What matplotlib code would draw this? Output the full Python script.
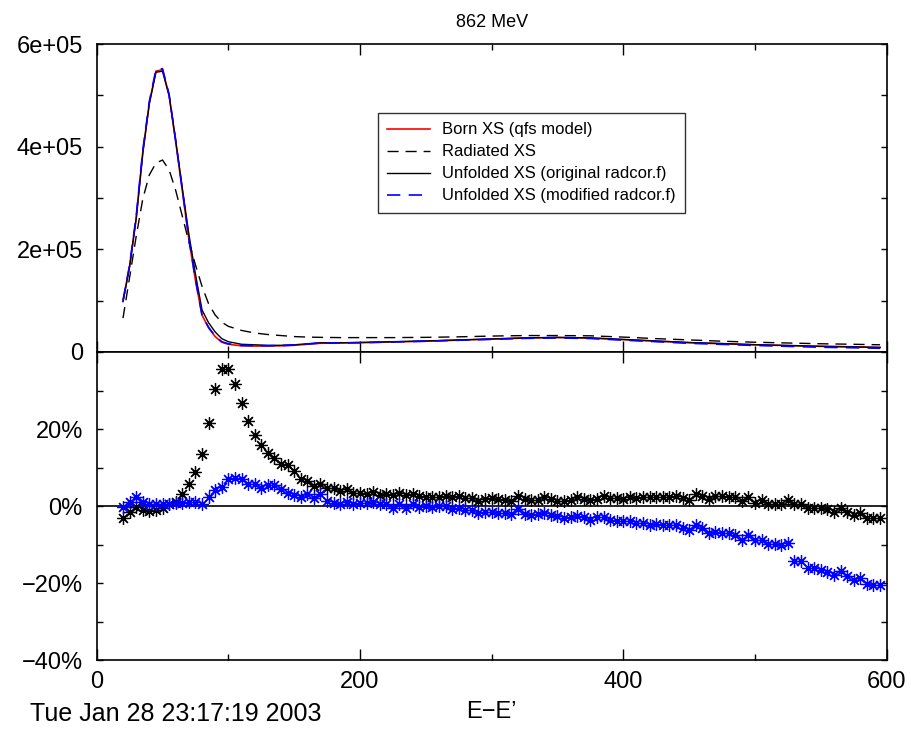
import matplotlib
matplotlib.use("Agg")
import matplotlib.pyplot as plt
from matplotlib.ticker import MultipleLocator

plt.rcParams['font.family'] = ['Liberation Sans', 'DejaVu Sans']

# top panel: cross sections (units of 1e5)
x_xs = [20, 25, 30, 35, 40, 45, 50, 55, 60, 65, 70, 75, 80, 85, 90, 95, 100,
        110, 120, 130, 140, 150, 160, 170, 185, 200, 225, 250, 275, 300, 325,
        350, 375, 400, 425, 450, 475, 500, 525, 550, 575, 595]
born = [1.00, 1.67, 2.60, 3.88, 4.85, 5.47, 5.50, 5.00, 4.10, 3.15, 2.20, 1.40,
        0.72, 0.47, 0.30, 0.19, 0.15, 0.12, 0.115, 0.115, 0.12, 0.13, 0.15,
        0.17, 0.175, 0.18, 0.195, 0.21, 0.23, 0.25, 0.27, 0.28, 0.27, 0.24,
        0.21, 0.18, 0.16, 0.14, 0.125, 0.11, 0.10, 0.09]
radiated = [0.66, 1.45, 2.25, 2.98, 3.45, 3.68, 3.74, 3.55, 3.15, 2.65, 2.15,
            1.70, 1.28, 0.94, 0.72, 0.58, 0.50, 0.42, 0.37, 0.34, 0.32, 0.30,
            0.29, 0.285, 0.28, 0.28, 0.28, 0.285, 0.295, 0.31, 0.32, 0.32,
            0.315, 0.29, 0.26, 0.235, 0.21, 0.19, 0.175, 0.16, 0.15, 0.14]
unf_orig = [0.98, 1.66, 2.60, 3.87, 4.84, 5.45, 5.47, 5.00, 4.12, 3.20, 2.30,
            1.52, 0.82, 0.57, 0.39, 0.26, 0.20, 0.15, 0.14, 0.13, 0.13, 0.14,
            0.16, 0.18, 0.18, 0.186, 0.20, 0.215, 0.235, 0.255, 0.275, 0.285,
            0.275, 0.245, 0.215, 0.185, 0.165, 0.142, 0.126, 0.11, 0.099, 0.087]
unf_mod = [1.00, 1.69, 2.64, 3.92, 4.88, 5.50, 5.52, 5.02, 4.13, 3.18, 2.22,
           1.42, 0.72, 0.48, 0.31, 0.20, 0.16, 0.128, 0.122, 0.121, 0.125,
           0.134, 0.154, 0.175, 0.176, 0.181, 0.195, 0.21, 0.228, 0.246,
           0.265, 0.273, 0.262, 0.23, 0.2, 0.169, 0.148, 0.127, 0.109, 0.092,
           0.082, 0.072]

# bottom panel: relative deviation (%), E-E' = 20..595 step 5
x_dev = list(range(20, 600, 5))
dev_orig = [
    -3.0, -1.6, -0.3, -1.0, -1.3, -1.0, -0.4, 0.4, 1.1, 3.2,
    5.8, 8.9, 13.4, 21.5, 30.5, 35.5, 35.5, 31.6, 26.7, 22.1,
    18.4, 15.8, 13.8, 12.5, 11.0, 10.6, 9.2, 7.0, 6.4, 5.1,
    5.7, 4.6, 4.6, 4.0, 4.3, 3.5, 3.3, 3.2, 3.7, 2.9,
    3.0, 2.9, 3.3, 2.8, 3.0, 2.7, 2.4, 2.3, 2.3, 2.6,
    2.3, 2.6, 2.2, 2.0, 1.3, 1.7, 2.0, 1.7, 1.5, 1.3,
    2.6, 1.7, 1.5, 1.5, 2.3, 1.7, 1.3, 1.3, 1.5, 2.3,
    1.8, 1.5, 1.7, 2.6, 2.0, 2.0, 1.7, 2.3, 2.0, 2.3,
    2.3, 2.3, 2.3, 2.3, 2.6, 2.0, 1.5, 3.0, 2.6, 1.7,
    2.6, 2.6, 2.3, 2.3, 1.3, 2.3, 0.9, 1.5, 0.4, 0.6,
    0.6, 1.5, 0.4, 0.6, -0.6, -0.4, -0.4, -0.9, -1.5, -0.4,
    -1.5, -2.3, -1.7, -3.2, -3.2, -3.2]
dev_mod = [
    -0.2, 1.1, 2.4, 1.1, 0.6, 0.6, 0.4, 0.4, 0.9, 0.9,
    1.1, 1.1, 0.4, 2.4, 4.1, 4.9, 6.9, 7.3, 6.9, 5.8,
    5.8, 4.8, 5.5, 5.4, 4.5, 3.5, 2.8, 2.3, 3.0, 2.2,
    3.0, 1.3, 0.9, 0.5, 1.0, 0.6, 0.7, 0.7, 1.0, 0.4,
    0.4, -0.4, 0.4, -0.4, 0.4, -0.2, 0.0, -0.3, 0.0, 0.0,
    -0.9, -0.6, -1.1, -1.1, -1.7, -1.5, -1.5, -1.7, -1.7, -2.0,
    -0.9, -2.0, -2.3, -2.0, -1.7, -2.3, -2.6, -3.0, -2.9, -2.6,
    -2.9, -3.5, -2.9, -2.9, -3.5, -3.9, -3.9, -3.9, -4.3, -4.3,
    -4.8, -4.6, -4.8, -4.8, -4.8, -5.6, -6.3, -4.8, -5.6, -6.9,
    -6.7, -6.9, -7.1, -7.4, -8.7, -7.4, -8.9, -8.9, -9.8, -9.8,
    -10.0, -9.5, -14.3, -14.3, -16.0, -16.1, -16.6, -17.2, -17.8, -16.9,
    -18.2, -19.3, -18.8, -20.3, -20.5, -20.5]

labels = ['Born XS (qfs model)', 'Radiated XS',
          'Unfolded XS (original radcor.f)', 'Unfolded XS (modified radcor.f)']

fig = plt.figure(figsize=(9.12, 7.31), dpi=100)
ax1 = fig.add_axes([0.106, 0.5185, 0.8662, 0.4213])
ax2 = fig.add_axes([0.106, 0.0971, 0.8662, 0.4213])

sc = 1e5
ax1.plot(x_xs, [v * sc for v in born], color='#ff0000', lw=1.2, label=labels[0])
ax1.plot(x_xs, [v * sc for v in radiated], color='black', lw=1.0,
         dashes=(8, 5), label=labels[1])
ax1.plot(x_xs, [v * sc for v in unf_orig], color='black', lw=1.0, label=labels[2])
ax1.plot(x_xs, [v * sc for v in unf_mod], color='#0000ff', lw=1.2,
         dashes=(8, 5), label=labels[3])

ax1.set_xlim(0, 600)
ax1.set_ylim(0, 6e5)
ax1.set_yticks([0, 2e5, 4e5, 6e5])
ax1.set_yticklabels(['0', '2e+05', '4e+05', '6e+05'])
ax1.yaxis.set_minor_locator(MultipleLocator(1e5))
ax1.set_title('862 MeV', fontsize=13, pad=12)

leg = ax1.legend(loc='upper left', bbox_to_anchor=(0.356, 0.775), fontsize=12,
                 frameon=True, fancybox=False, handlelength=2.6,
                 handletextpad=0.7, labelspacing=0.42, borderpad=0.55,
                 borderaxespad=0)
leg.get_frame().set_edgecolor('black')
leg.get_frame().set_linewidth(1.0)

ax2.axhline(0, color='black', lw=1.2, zorder=1)
ax2.plot(x_dev, dev_orig, ls='none', marker=(8, 2, 0), ms=9, mew=0.9,
         color='black')
ax2.plot(x_dev, dev_mod, ls='none', marker=(8, 2, 0), ms=9, mew=0.9,
         color='#0000ff')
ax2.set_xlim(0, 600)
ax2.set_ylim(-40, 40)
ax2.set_yticks([-40, -20, 0, 20, 40])
ax2.set_yticklabels(['\u221240%', '\u221220%', '0%', '20%', ''])
ax2.yaxis.set_minor_locator(MultipleLocator(10))

for ax in (ax1, ax2):
    ax.set_xticks([0, 200, 400, 600])
    ax.xaxis.set_minor_locator(MultipleLocator(100))
    ax.tick_params(which='both', direction='in', top=True, right=True,
                   labelsize=17, width=1.0)
    ax.tick_params(axis='x', which='major', length=8, pad=8)
    ax.tick_params(axis='x', which='minor', length=4)
    ax.tick_params(axis='y', which='both', length=4, pad=10)
    for s in ax.spines.values():
        s.set_linewidth(1.2)
ax1.tick_params(axis='x', labelbottom=False)

fig.text(491 / 912, 1 - 712 / 731, 'E\u2212E\u2019', fontsize=17,
         ha='center', va='center')
fig.text(30 / 912, 1 - 714 / 731, 'Tue Jan 28 23:17:19 2003', fontsize=18,
         ha='left', va='center')

fig.savefig('out.png', dpi=100)
